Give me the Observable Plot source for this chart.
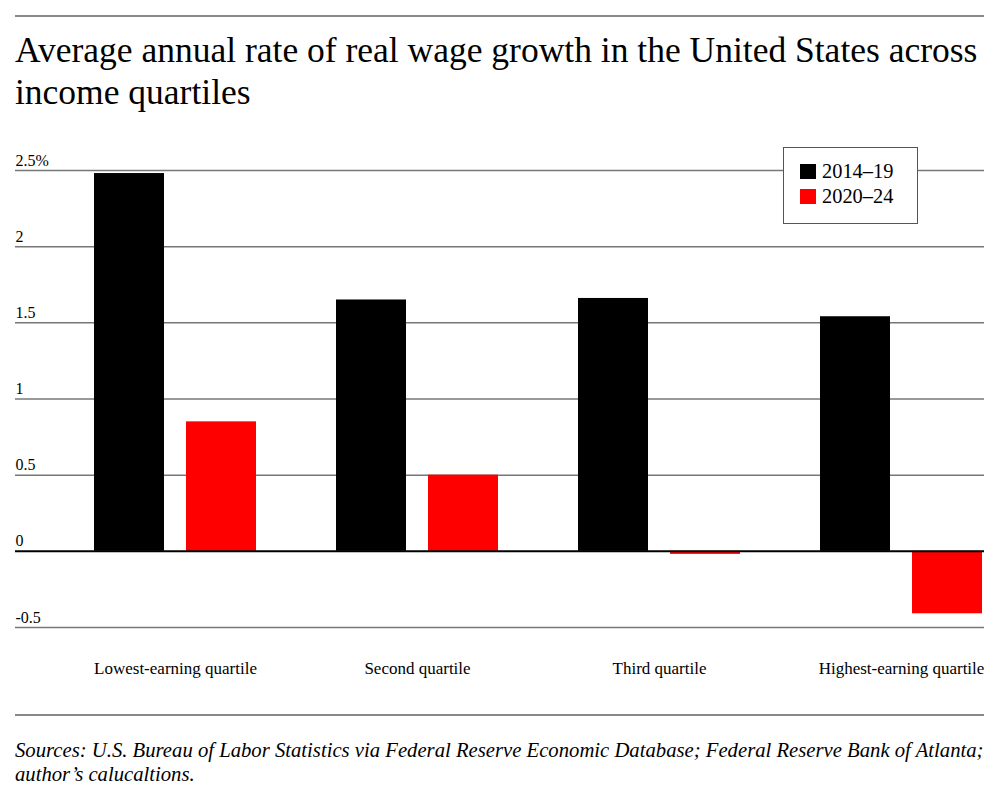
<!DOCTYPE html>
<html>
<head>
<meta charset="utf-8">
<script src="https://cdn.jsdelivr.net/npm/d3@7"></script>
<script src="https://cdn.jsdelivr.net/npm/@observablehq/plot@0.6"></script>
<style>
  html, body { margin: 0; padding: 0; background: #fff; }
  body { width: 1000px; height: 794px; position: relative; overflow: hidden; font-family: "Liberation Serif", "DejaVu Serif", serif; color: #000; }
  .rule { position: absolute; left: 15px; width: 969px; height: 0; border-top: 2px solid #888; }
  #title { position: absolute; left: 15px; top: 29px; width: 985px; font-size: 35.5px; line-height: 42px; white-space: nowrap; }
  #chart { position: absolute; left: 0; top: 130px; }
  #legend { position: absolute; left: 783px; top: 147px; width: 135px; height: 77px; border: 1px solid #555; background: #fff; box-sizing: border-box; }
  .item { position: absolute; left: 16px; font-size: 20.4px; line-height: 20px; white-space: nowrap; }
  .sw { display: inline-block; width: 16px; height: 15px; margin-right: 6px; vertical-align: -1px; }
  #caption { position: absolute; left: 15px; top: 738px; width: 985px; font-style: italic; font-size: 20.7px; line-height: 24px; white-space: nowrap; }
</style>
</head>
<body>
<div class="rule" style="top:15px"></div>
<div id="title">Average annual rate of real wage growth in the United States across<br>income quartiles</div>
<div id="chart"></div>
<div id="legend"></div>
<div class="rule" style="top:714px"></div>
<div id="caption">Sources: U.S. Bureau of Labor Statistics via Federal Reserve Economic Database; Federal Reserve Bank of Atlanta;<br>author’s calucaltions.</div>
<script>
const quartiles = ["Lowest-earning quartile", "Second quartile", "Third quartile", "Highest-earning quartile"];
const periods = ["2014–19", "2020–24"];
const colors = ["#000000", "#ff0000"];
const values2014_19 = [2.48, 1.65, 1.66, 1.54];
const values2020_24 = [0.85, 0.50, -0.02, -0.41];
const yTicks = [-0.5, 0, 0.5, 1, 1.5, 2, 2.5];
const yTickLabels = ["-0.5", "0", "0.5", "1", "1.5", "2", "2.5%"];

const data = [
  ...quartiles.map((q, i) => ({quartile: q, period: periods[0], value: values2014_19[i]})),
  ...quartiles.map((q, i) => ({quartile: q, period: periods[1], value: values2020_24[i]}))
];
const tickData = yTicks.map((t, i) => ({t, label: yTickLabels[i]}));

const chart = Plot.plot({
  width: 1000,
  height: 570,
  marginLeft: 15,
  marginRight: 16,
  marginTop: 40,
  marginBottom: 73,
  style: {fontFamily: "Liberation Serif", fontSize: "16px", color: "#000", background: "#fff"},
  x: {domain: quartiles, range: [92, 984], paddingInner: 0.329, paddingOuter: 0, label: null},
  y: {domain: [-0.5, 2.5], label: null, axis: null},
  marks: [
    Plot.ruleY(yTicks.filter(t => t !== 0), {stroke: "#777", strokeWidth: 1.5}),
    Plot.barY(data.filter(d => d.period === periods[0]), {x: "quartile", y: "value", fill: colors[0], insetRight: 92}),
    Plot.barY(data.filter(d => d.period === periods[1]), {x: "quartile", y: "value", fill: colors[1], insetLeft: 92}),
    Plot.ruleY([0], {stroke: "#000", strokeWidth: 2}),
    Plot.text(tickData, {y: "t", text: "label", frameAnchor: "left", textAnchor: "start", lineAnchor: "bottom", dy: -5, fontSize: 16}),
    Plot.axisX({anchor: "bottom", tickSize: 0, tickPadding: 34, fontSize: 17, label: null})
  ]
});
document.getElementById("chart").appendChild(chart);

const legend = document.getElementById("legend");
periods.forEach((p, i) => {
  const div = document.createElement("div");
  div.className = "item";
  div.style.top = (13 + i * 25) + "px";
  div.innerHTML = `<span class="sw" style="background:${colors[i]}"></span>${p}`;
  legend.appendChild(div);
});
</script>
</body>
</html>
